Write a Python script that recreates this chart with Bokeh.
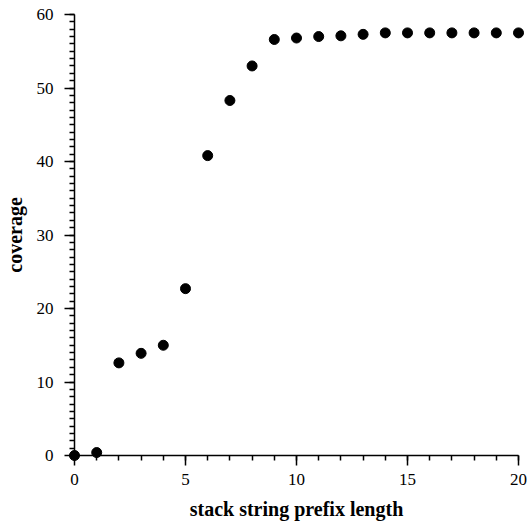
from bokeh.plotting import figure
from bokeh.models import Range1d, FixedTicker, ColumnDataSource
from bokeh.embed import file_html
from bokeh.resources import INLINE

# stack string prefix length vs. coverage
prefix_length = list(range(21))
coverage = [0.0, 0.4, 12.6, 13.9, 15.0, 22.7, 40.8, 48.3, 53.0, 56.6, 56.8,
            57.0, 57.1, 57.3, 57.5, 57.5, 57.5, 57.5, 57.5, 57.5, 57.5]

# ticks at every unit; only every 5th (x) / 10th (y) carries a label
x_ticks = list(range(0, 21))
x_labeled = [0, 5, 10, 15, 20]
y_ticks = list(range(0, 61))
y_labeled = [0, 10, 20, 30, 40, 50, 60]

SERIF = "Liberation Serif"

source = ColumnDataSource(data=dict(x=prefix_length, y=coverage))

p = figure(width=530, height=522, output_backend="svg", toolbar_location=None,
           x_range=Range1d(0, 20), y_range=Range1d(0, 60),
           min_border_left=73, min_border_right=12,
           min_border_top=14, min_border_bottom=64)

p.outline_line_color = None
p.xgrid.visible = False
p.ygrid.visible = False
p.background_fill_color = "white"
p.border_fill_color = "white"

# drawn above the axes so the edge points are not cut by the frame
r = p.scatter("x", "y", source=source, size=10, color="black", marker="circle")
r.level = "overlay"

xa = p.xaxis[0]
ya = p.yaxis[0]
# short ticks at every unit, longer ones at the labelled values
xa.ticker = FixedTicker(ticks=x_ticks, minor_ticks=x_labeled)
ya.ticker = FixedTicker(ticks=y_ticks, minor_ticks=y_labeled)
xa.major_label_overrides = {v: ("" if v not in x_labeled else str(v)) for v in x_ticks}
ya.major_label_overrides = {v: ("" if v not in y_labeled else str(v)) for v in y_ticks}

xa.axis_label = "stack string prefix length"
ya.axis_label = "coverage"

for ax in (xa, ya):
    ax.axis_line_color = "black"
    ax.axis_line_width = 1.5
    ax.major_tick_line_color = "black"
    ax.major_tick_line_width = 1.5
    ax.major_tick_in = 0
    ax.major_tick_out = 5
    ax.minor_tick_line_color = "black"
    ax.minor_tick_line_width = 1.5
    ax.minor_tick_in = 0
    ax.minor_tick_out = 10
    ax.major_label_text_font = SERIF
    ax.major_label_text_font_size = "17px"
    ax.major_label_text_color = "black"
    ax.axis_label_text_font = SERIF
    ax.axis_label_text_font_style = "bold"
    ax.axis_label_text_font_size = "20px"
    ax.axis_label_text_color = "black"

# labels sit past the long ticks
xa.major_label_standoff = 8
ya.major_label_standoff = 11
xa.axis_label_standoff = 10
ya.axis_label_standoff = 8

open("out.html", "w").write(file_html(p, INLINE))
